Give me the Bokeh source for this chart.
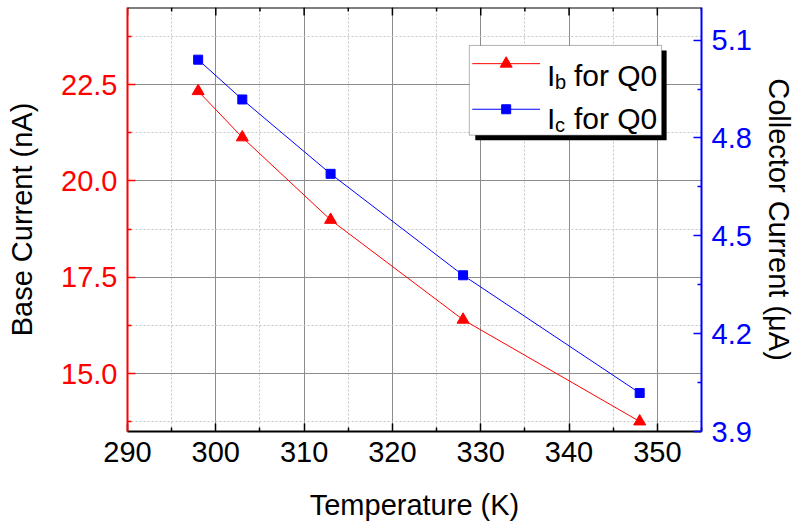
import math
from bokeh.plotting import figure
from bokeh.models import Range1d, LinearAxis, FixedTicker, NumeralTickFormatter, Label, BoxAnnotation, Span
from bokeh.embed import file_html
from bokeh.resources import INLINE

# ---- data ----
temperature = [298, 303, 313, 328, 348]
ib_nA = [22.33, 21.13, 18.99, 16.40, 13.76]
ic_uA = [5.040, 4.918, 4.690, 4.379, 4.018]

x_major = [290, 300, 310, 320, 330, 340, 350]
x_minor = [295, 305, 315, 325, 335, 345, 355]
yl_major = [15.0, 17.5, 20.0, 22.5]
yl_minor = [13.75, 16.25, 18.75, 21.25, 23.75]
yr_major = [3.9, 4.2, 4.5, 4.8, 5.1]
yr_minor = [4.05, 4.35, 4.65, 4.95]

FONT = "Liberation Sans"
RED = "#FF0000"
BLUE = "#0000FF"

# frame geometry (pixels)
FL, FR, FT, FB = 127, 703, 7, 432
XMIN, XMAX = 290, 355
YMIN, YMAX = 13.5, 24.5

p = figure(width=797, height=523, x_range=Range1d(XMIN, XMAX), y_range=Range1d(YMIN, YMAX),
           output_backend="svg", toolbar_location=None,
           min_border_left=FL, min_border_right=797 - FR, min_border_top=FT, min_border_bottom=523 - FB)
p.extra_y_ranges = {"ic": Range1d(3.9, 5.2)}
p.outline_line_color = None
p.background_fill_color = "white"
p.border_fill_color = "white"

xt = FixedTicker(ticks=x_major, minor_ticks=x_minor)
ylt = FixedTicker(ticks=yl_major, minor_ticks=yl_minor)
yrt = FixedTicker(ticks=yr_major, minor_ticks=yr_minor)


def style_axis(ax, color):
    ax.axis_line_color = color
    ax.axis_line_width = 2
    ax.major_tick_line_color = color
    ax.minor_tick_line_color = color
    ax.major_tick_line_width = 1.5
    ax.minor_tick_line_width = 1.5
    ax.major_tick_in = 8
    ax.major_tick_out = 0
    ax.minor_tick_in = 4
    ax.minor_tick_out = 0
    ax.major_label_text_font = FONT
    ax.major_label_text_font_size = "29px"
    ax.major_label_text_color = color
    ax.axis_label_text_font = FONT
    ax.axis_label_text_font_size = "29px"
    ax.axis_label_text_font_style = "normal"
    ax.axis_label_text_color = "black"


# bottom axis
xa = p.xaxis[0]
xa.ticker = xt
style_axis(xa, "black")
xa.axis_label = "Temperature (K)"
xa.major_label_standoff = 10
xa.axis_label_standoff = 24

# left axis
ya = p.yaxis[0]
ya.ticker = ylt
ya.formatter = NumeralTickFormatter(format="0.0")
style_axis(ya, RED)
ya.axis_label = "Base Current (nA)"
ya.major_label_standoff = 10
ya.axis_label_standoff = 20

# right axis
ra = LinearAxis(y_range_name="ic", ticker=yrt, formatter=NumeralTickFormatter(format="0.0"))
style_axis(ra, BLUE)
ra.axis_label = "Collector Current (μA)"
ra.major_label_standoff = 10
ra.axis_label_standoff = 8
p.add_layout(ra, "right")

# top border line and ticks
p.add_layout(Span(location=YMAX, dimension="width", line_color="black", line_width=2))
p.ray(x=x_major, y=[YMAX] * len(x_major), length=8, angle=-math.pi / 2, length_units="screen",
      color="black", line_width=1.5)
p.ray(x=x_minor, y=[YMAX] * len(x_minor), length=4, angle=-math.pi / 2, length_units="screen",
      color="black", line_width=1.5)

# grids
for g, t in ((p.xgrid[0], xt), (p.ygrid[0], ylt)):
    g.ticker = t
    g.grid_line_color = "#8c8c8c"
    g.grid_line_width = 1
    g.minor_grid_line_color = "#c4c4c4"
    g.minor_grid_line_dash = "2 2"
    g.minor_grid_line_width = 1

# data series
p.line(temperature, ib_nA, color=RED, line_width=1)
p.scatter(temperature, ib_nA, marker="triangle", size=12, color=RED)
p.line(temperature, ic_uA, color=BLUE, line_width=1, y_range_name="ic")
p.scatter(temperature, ic_uA, marker="square", size=9, color=BLUE, y_range_name="ic")


# ---- helpers: pixel -> data (for decorations only) ----
def X(px):
    return XMIN + (px - FL) / (FR - FL) * (XMAX - XMIN)


def Y(py):
    return YMIN + (FB - py) / (FB - FT) * (YMAX - YMIN)


# ---- legend (manual, to allow subscripts) ----
shadow = BoxAnnotation(left=X(476), right=X(668), top=Y(50), bottom=Y(140),
                       fill_color="black", fill_alpha=1, line_color=None, level="annotation")
box = BoxAnnotation(left=X(470), right=X(663), top=Y(45), bottom=Y(135),
                    fill_color="white", fill_alpha=1, line_color="black", line_width=1, level="annotation")
p.add_layout(shadow)
p.add_layout(box)

entries = [("b", RED, "triangle", 12, 63.3, 75.0), ("c", BLUE, "square", 9, 109.0, 118.0)]
for sub, col, mk, sz, ly, base in entries:
    r1 = p.line([X(473), X(541)], [Y(ly), Y(ly)], color=col, line_width=1)
    r1.level = "overlay"
    r2 = p.scatter([X(507)], [Y(ly)], marker=mk, size=sz, color=col)
    r2.level = "overlay"
    for txt, px, py, fs in (("I", 548, base, "30px"), (sub, 556, base + 7, "20px"),
                             ("for Q0", 575, base, "30px")):
        lab = Label(x=X(px), y=Y(py), text=txt, text_font=FONT, text_font_size=fs,
                    text_color="black", text_baseline="alphabetic", text_align="left", level="overlay")
        p.add_layout(lab)

open("out.html", "w").write(file_html(p, INLINE))
